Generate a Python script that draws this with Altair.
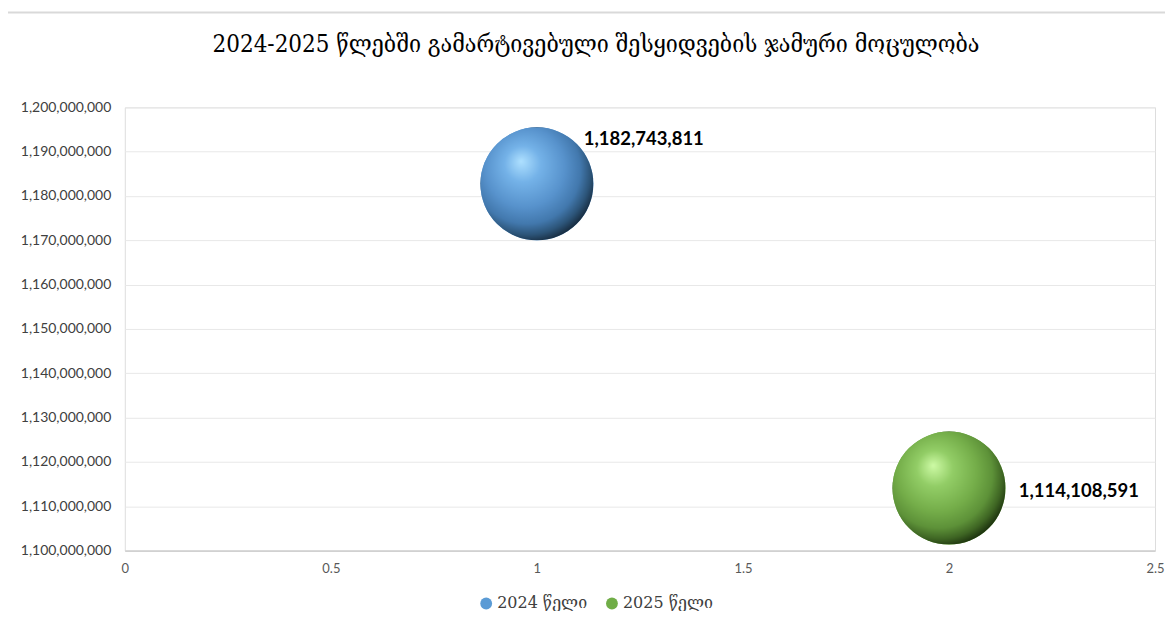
import altair as alt
import pandas as pd

years = ["2024 წელი", "2025 წელი"]
x_vals = [1, 2]
y_vals = [1182743811, 1114108591]
colors = ["#5b9bd5", "#70ad47"]
y_ticks = [1100000000 + 10000000 * i for i in range(11)]
x_ticks = [0, 0.5, 1, 1.5, 2, 2.5]
title_text = "2024-2025 წლებში გამარტივებული შესყიდვების ჯამური მოცულობა"

df = pd.DataFrame({"year": years, "x": x_vals, "y": y_vals})

W, H = 1032, 444
BUBBLE = 12800

x_enc = alt.X("x:Q", scale=alt.Scale(domain=[0, 2.5], nice=False),
              axis=alt.Axis(values=x_ticks, labelExpr="format(datum.value, '~g')",
                            grid=False, ticks=False, labelFlush=False,
                            domainColor="#bfbfbf", labelColor="#595959",
                            labelFont="Lato", labelFontSize=13, labelPadding=12, title=None))
y_enc = alt.Y("y:Q", scale=alt.Scale(domain=[1100000000, 1200000000], nice=False, zero=False),
              axis=alt.Axis(values=y_ticks, labelExpr="format(datum.value, ',')",
                            grid=True, gridColor="#e8e8e8",
                            ticks=False, domain=False, labelColor="#404040",
                            labelFont="Lato", labelFontSize=14, labelPadding=14, title=None))

base = alt.Chart(df).encode(x=x_enc, y=y_enc)

solid = base.mark_circle(opacity=1, size=BUBBLE).encode(
    color=alt.Color("year:N", scale=alt.Scale(domain=years, range=colors),
                    legend=alt.Legend(title=None, orient="none", direction="horizontal",
                                      legendX=354, legendY=489, symbolType="circle",
                                      symbolSize=140, labelFont="DejaVu Serif",
                                      labelFontSize=16, labelColor="#404040",
                                      columnPadding=16, labelOffset=3))
)


def sphere(idx, stops):
    grad = alt.RadialGradient(
        gradient="radial",
        stops=[alt.GradientStop(color=c, offset=o) for o, c in stops],
        x1=0.36, y1=0.3, r1=0.0, x2=0.42, y2=0.4, r2=0.64,
    )
    return base.transform_filter(alt.datum.year == years[idx]).mark_circle(
        opacity=1, size=BUBBLE, fill=grad, strokeWidth=0)


blue = sphere(0, [(0.0, "#aee0ff"), (0.25, "#74b2e8"), (0.55, "#5792cc"),
                  (0.75, "#4278ad"), (0.88, "#2c5478"), (1.0, "#142536")])
green = sphere(1, [(0.0, "#cdfaa5"), (0.25, "#92cd66"), (0.55, "#74ad49"),
                   (0.75, "#5d9138"), (0.88, "#3e6523"), (1.0, "#172a0b")])

lbl0 = base.transform_filter(alt.datum.year == years[0]).mark_text(
    align="left", baseline="middle", dx=47, dy=-45, fontWeight="bold",
    font="Lato", fontSize=18.5, color="#000000").encode(text=alt.Text("y:Q", format=","))
lbl1 = base.transform_filter(alt.datum.year == years[1]).mark_text(
    align="left", baseline="middle", dx=70, dy=3, fontWeight="bold",
    font="Lato", fontSize=18.5, color="#000000").encode(text=alt.Text("y:Q", format=","))

one = df.head(1)

# chart frame (decoration): top and left edges visible in the reference
frame_top = alt.Chart(one).mark_rule(color="#d9d9d9", strokeWidth=2).encode(
    x=alt.value(-120), x2=alt.value(1048), y=alt.value(-95))
frame_left = alt.Chart(one).mark_rule(color="#d9d9d9", strokeWidth=2).encode(
    x=alt.value(-120), y=alt.value(-95), y2=alt.value(519))

title_mark = alt.Chart(one).mark_text(
    font="DejaVu Serif Condensed", fontSize=24, color="#000000",
    align="center", baseline="middle").encode(
    x=alt.value(472), y=alt.value(-62), text=alt.value(title_text))

chart = alt.layer(frame_top, frame_left, title_mark, solid, blue, green, lbl0, lbl1).properties(
    width=W, height=H,
    autosize=alt.AutoSizeParams(type="none"),
    padding={"left": 117, "top": 99, "right": 10, "bottom": 60},
).configure_view(strokeWidth=0, stroke="transparent").configure(background="white")

chart.save("out.html", embed_options={"renderer": "svg", "actions": False})
